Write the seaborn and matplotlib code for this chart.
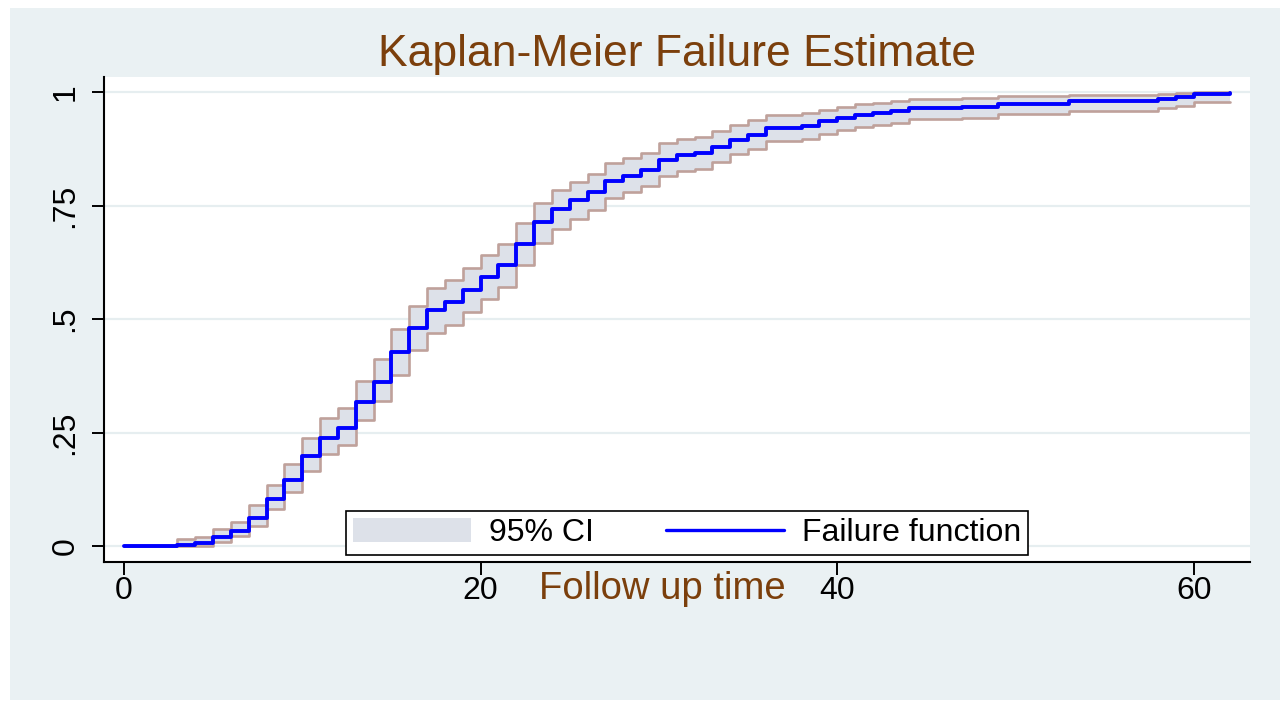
import numpy as np
import pandas as pd
import seaborn as sns
import matplotlib
matplotlib.use("Agg")
import matplotlib.pyplot as plt
from matplotlib.patches import Patch, Rectangle
from matplotlib.lines import Line2D

# ---------------- data ----------------
times = list(range(0, 63))
failure = [0, 0, 0, 0.003, 0.007, 0.02, 0.033, 0.062, 0.104, 0.145,
           0.198, 0.238, 0.26, 0.317, 0.361, 0.427, 0.48, 0.52, 0.537, 0.564,
           0.593, 0.619, 0.665, 0.714, 0.742, 0.762, 0.78, 0.804, 0.815, 0.828,
           0.85, 0.861, 0.866, 0.879, 0.894, 0.905, 0.921, 0.921, 0.925, 0.936,
           0.943, 0.949, 0.954, 0.958, 0.965, 0.965, 0.965, 0.967, 0.967, 0.974,
           0.974, 0.974, 0.974, 0.98, 0.98, 0.98, 0.98, 0.98, 0.985, 0.989,
           0.996, 0.996, 0.998]
ci_upper = [0, 0, 0, 0.015, 0.021, 0.037, 0.054, 0.09, 0.135, 0.181,
            0.238, 0.281, 0.304, 0.363, 0.412, 0.478, 0.529, 0.568, 0.586, 0.612,
            0.641, 0.665, 0.711, 0.756, 0.784, 0.802, 0.819, 0.844, 0.855, 0.866,
            0.888, 0.896, 0.9, 0.914, 0.927, 0.938, 0.949, 0.949, 0.954, 0.96,
            0.967, 0.974, 0.976, 0.98, 0.985, 0.985, 0.985, 0.987, 0.987, 0.991,
            0.991, 0.991, 0.991, 0.993, 0.993, 0.993, 0.993, 0.993, 0.996, 0.998,
            1.0, 1.0, 1.0]
ci_lower = [0, 0, 0, 0, 0.001, 0.008, 0.022, 0.045, 0.082, 0.119,
            0.165, 0.203, 0.223, 0.278, 0.319, 0.377, 0.432, 0.469, 0.487, 0.515,
            0.544, 0.57, 0.619, 0.667, 0.698, 0.72, 0.74, 0.767, 0.78, 0.793,
            0.815, 0.826, 0.83, 0.846, 0.863, 0.874, 0.892, 0.892, 0.896, 0.907,
            0.916, 0.923, 0.927, 0.932, 0.94, 0.94, 0.94, 0.943, 0.943, 0.952,
            0.952, 0.952, 0.952, 0.958, 0.958, 0.958, 0.958, 0.958, 0.965, 0.969,
            0.978, 0.978, 0.978]
x_ticks = [0, 20, 40, 60]
y_ticks = [0, 0.25, 0.5, 0.75, 1]
y_tick_labels = ["0", ".25", ".5", ".75", "1"]
title = "Kaplan-Meier Failure Estimate"
x_label = "Follow up time"
legend_labels = ["95% CI", "Failure function"]

df = pd.DataFrame({"time": times, "failure": failure,
                   "upper": ci_upper, "lower": ci_lower})

# ---------------- style ----------------
sns.set_theme(style="white")
plt.rcParams["font.family"] = ["Liberation Sans", "DejaVu Sans"]

BG = "#EAF1F3"
BROWN = "#7B3F0C"
CI_FILL = "#DDE1E9"
CI_EDGE = "#BFA19B"
BLUE = "#0000FF"

fig = plt.figure(figsize=(12.88, 7.23), dpi=100, facecolor="white")
fig.patches.append(Rectangle((10 / 1288, 23 / 723), 1270 / 1288, 692 / 723,
                             transform=fig.transFigure, facecolor=BG,
                             edgecolor="none", zorder=-10))
ax = fig.add_axes([104 / 1288, (723 - 562) / 723, 1146 / 1288, 485 / 723])
ax.set_facecolor("white")

# CI band
ax.fill_between(df["time"], df["lower"], df["upper"], step="post",
                color=CI_FILL, linewidth=0, zorder=2)
sns.lineplot(data=df, x="time", y="upper", ax=ax, color=CI_EDGE,
             drawstyle="steps-post", linewidth=1.9, zorder=3, legend=False)
sns.lineplot(data=df, x="time", y="lower", ax=ax, color=CI_EDGE,
             drawstyle="steps-post", linewidth=1.9, zorder=3, legend=False)
sns.lineplot(data=df, x="time", y="failure", ax=ax, color=BLUE,
             drawstyle="steps-post", linewidth=2.8, zorder=4, legend=False,
             solid_capstyle="round")

ax.set_xlim(-1.12, 63.14)
ax.set_ylim(-0.035, 1.033)

ax.set_yticks(y_ticks)
ax.set_yticklabels(y_tick_labels, rotation=90, va="center")
ax.set_xticks(x_ticks)
ax.set_xticklabels([str(t) for t in x_ticks])

ax.grid(axis="y", color="#E6EEF0", linewidth=1.6, zorder=0)
ax.grid(axis="x", visible=False)
ax.set_axisbelow(True)

for s in ["top", "right"]:
    ax.spines[s].set_visible(False)
for s in ["left", "bottom"]:
    ax.spines[s].set_color("black")
    ax.spines[s].set_linewidth(1.5)

ax.tick_params(axis="both", which="major", direction="out", length=9,
               width=1.4, color="black", labelsize=23, labelcolor="black",
               left=True, bottom=True)
ax.tick_params(axis="x", pad=1)
ax.tick_params(axis="y", pad=8)

ax.set_ylabel("")
ax.set_xlabel(x_label, fontsize=27.5, color=BROWN)
ax.xaxis.set_label_coords((662 - 104) / 1146, (562 - 571) / 485)

ax.set_title(title, fontsize=32, color=BROWN, pad=8)

handles = [Patch(facecolor=CI_FILL, edgecolor="none"),
           Line2D([0], [0], color=BLUE, linewidth=2.4)]
leg = ax.legend(handles, legend_labels, loc="lower center",
                bbox_to_anchor=((687 - 104) / 1146, 0.014), ncol=2,
                frameon=True, fancybox=False, framealpha=1, fontsize=23,
                handlelength=3.7, handleheight=0.8, columnspacing=2.25,
                borderpad=0.22, borderaxespad=0, handletextpad=0.55)
leg.get_frame().set_edgecolor("black")
leg.get_frame().set_linewidth(1.2)
for t in leg.get_texts():
    t.set_color("black")

fig.savefig("out.png", dpi=100, facecolor=fig.get_facecolor())
